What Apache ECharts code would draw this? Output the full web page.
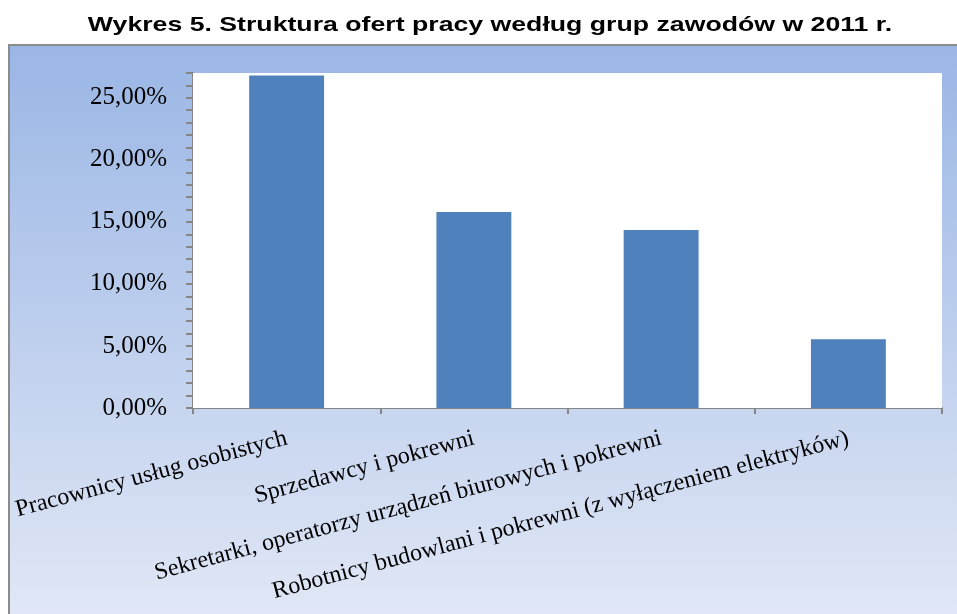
<!DOCTYPE html>
<html>
<head>
<meta charset="utf-8">
<script src="https://cdn.jsdelivr.net/npm/echarts@6/dist/echarts.min.js"></script>
<style>
html,body{margin:0;padding:0;background:#fff;}
#chart{width:957px;height:614px;}
</style>
</head>
<body>
<div id="chart"></div>
<script>
const titleText = 'Wykres 5. Struktura ofert pracy według grup zawodów w 2011 r.';
const categories = [
  'Pracownicy usług osobistych',
  'Sprzedawcy i pokrewni',
  'Sekretarki, operatorzy urządzeń biurowych i pokrewni',
  'Robotnicy budowlani i pokrewni (z wyłączeniem elektryków)'
];
const shares = [26.8, 15.8, 14.35, 5.55];
const yMin = 0, yMax = 27, yStep = 5, yMinorStep = 1;

const chart = echarts.init(document.getElementById('chart'), null, {renderer: 'canvas'});
const fmt = v => (v % 5 === 0 && v < yMax) ? v.toFixed(2).replace('.', ',') + '%' : '';
chart.setOption({
  backgroundColor: '#ffffff',
  animation: false,
  graphic: [{
    type: 'rect', z: -100, silent: true,
    shape: {x: 9, y: 45, width: 960, height: 580},
    style: {
      fill: new echarts.graphic.LinearGradient(0, 0, 0, 1, [
        {offset: 0, color: '#9ab6e5'},
        {offset: 1, color: '#e2e8f6'}
      ]),
      stroke: '#8c8c8c', lineWidth: 2
    }
  }, {
    type: 'text', silent: true, z: 10,
    x: 490, y: 25, scaleX: 1.27,
    style: {
      text: titleText, x: 0, y: 0,
      textAlign: 'center', textVerticalAlign: 'middle',
      font: 'bold 21px "Liberation Sans", Arial, sans-serif',
      fill: '#000000'
    }
  }],
  grid: {left: 193, right: 15, top: 73, bottom: 206, show: true, backgroundColor: '#ffffff', borderWidth: 0, z: 1},
  xAxis: {
    type: 'category',
    data: categories,
    axisLine: {lineStyle: {color: '#868686', width: 2}},
    axisTick: {show: true, length: 6, lineStyle: {color: '#868686', width: 2}},
    axisLabel: {
      rotate: 15, margin: 30, interval: 0,
      fontFamily: 'Liberation Serif, Times New Roman, serif', fontSize: 24, color: '#000'
    }
  },
  yAxis: [{
    type: 'value', min: yMin, max: yMax, interval: yStep,
    axisLine: {show: true, lineStyle: {color: '#868686', width: 2}},
    axisTick: {show: false},
    axisLabel: {
      formatter: fmt, margin: 26, showMaxLabel: false,
      fontFamily: 'Liberation Serif, Times New Roman, serif', fontSize: 25, color: '#000'
    },
    splitLine: {show: true, showMaxLine: false, lineStyle: {color: '#868686', width: 2}}
  }, {
    type: 'value', min: yMin, max: yMax, interval: yMinorStep, position: 'left',
    axisLine: {show: false},
    axisTick: {show: true, length: 7, lineStyle: {color: '#868686', width: 2}},
    axisLabel: {show: false},
    splitLine: {show: false}
  }],
  series: [{
    type: 'bar', yAxisIndex: 0,
    data: shares,
    barWidth: '40%',
    itemStyle: {color: '#4f81bd'}
  }]
});
</script>
</body>
</html>
